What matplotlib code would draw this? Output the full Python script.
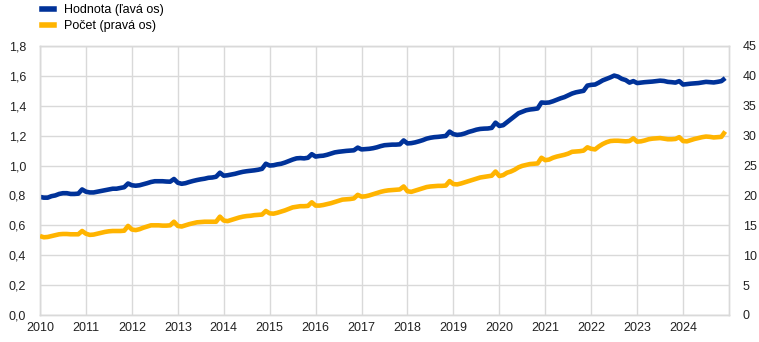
import numpy as np
import matplotlib
matplotlib.use('Agg')
import matplotlib.pyplot as plt
from matplotlib.ticker import FuncFormatter
from matplotlib.lines import Line2D

# Mesačné údaje 2010-2024
roky = list(range(2010, 2025))

hodnota = [
    0.79, 0.785, 0.785, 0.795, 0.80, 0.81, 0.815, 0.815, 0.81, 0.81, 0.812, 0.84,        # 2010
    0.825, 0.82, 0.82, 0.825, 0.83, 0.835, 0.84, 0.845, 0.845, 0.85, 0.855, 0.88,        # 2011
    0.868, 0.865, 0.868, 0.875, 0.882, 0.89, 0.895, 0.895, 0.895, 0.893, 0.892, 0.91,    # 2012
    0.885, 0.878, 0.882, 0.89, 0.897, 0.903, 0.908, 0.912, 0.918, 0.92, 0.925, 0.952,    # 2013
    0.932, 0.935, 0.94, 0.945, 0.952, 0.958, 0.962, 0.965, 0.968, 0.972, 0.978, 1.012,   # 2014
    1.0, 1.002, 1.008, 1.012, 1.02, 1.03, 1.04, 1.048, 1.05, 1.048, 1.052, 1.076,        # 2015
    1.06, 1.064, 1.066, 1.072, 1.08, 1.088, 1.092, 1.095, 1.098, 1.1, 1.102, 1.12,       # 2016
    1.108, 1.11, 1.112, 1.116, 1.122, 1.13, 1.136, 1.138, 1.14, 1.14, 1.142, 1.168,      # 2017
    1.148, 1.15, 1.155, 1.162, 1.17, 1.18, 1.186, 1.19, 1.192, 1.195, 1.198, 1.227,      # 2018
    1.21, 1.205, 1.208, 1.215, 1.225, 1.232, 1.24, 1.245, 1.247, 1.248, 1.252, 1.287,    # 2019
    1.265, 1.27, 1.29, 1.31, 1.33, 1.35, 1.36, 1.37, 1.375, 1.378, 1.382, 1.422,         # 2020
    1.42, 1.422, 1.43, 1.44, 1.45, 1.458, 1.47, 1.482, 1.49, 1.495, 1.5, 1.535,          # 2021
    1.54, 1.542, 1.555, 1.57, 1.58, 1.59, 1.602, 1.595, 1.58, 1.572, 1.555, 1.565,       # 2022
    1.552, 1.555, 1.558, 1.56, 1.562, 1.565, 1.568, 1.566, 1.56, 1.558, 1.555, 1.565,    # 2023
    1.542, 1.545, 1.548, 1.55, 1.552, 1.556, 1.56, 1.558, 1.556, 1.56, 1.565, 1.585,     # 2024
]

pocet = [
    13.2, 13.0, 13.05, 13.2, 13.35, 13.5, 13.55, 13.55, 13.5, 13.5, 13.5, 14.05,          # 2010
    13.6, 13.4, 13.45, 13.6, 13.75, 13.9, 14.0, 14.05, 14.05, 14.05, 14.1, 14.9,          # 2011
    14.3, 14.2, 14.35, 14.6, 14.8, 15.0, 15.0, 15.0, 14.95, 14.95, 15.0, 15.6,            # 2012
    14.9, 14.8, 15.0, 15.2, 15.35, 15.5, 15.55, 15.6, 15.6, 15.6, 15.6, 16.45,            # 2013
    15.8, 15.7, 15.9, 16.1, 16.3, 16.45, 16.55, 16.6, 16.7, 16.75, 16.8, 17.4,            # 2014
    17.0, 16.95, 17.1, 17.3, 17.5, 17.75, 18.0, 18.1, 18.2, 18.2, 18.25, 18.85,           # 2015
    18.3, 18.3, 18.4, 18.55, 18.7, 18.9, 19.1, 19.3, 19.35, 19.4, 19.5, 20.1,             # 2016
    19.8, 19.85, 20.0, 20.2, 20.4, 20.6, 20.75, 20.85, 20.9, 20.95, 21.0, 21.5,           # 2017
    20.7, 20.6, 20.8, 21.0, 21.2, 21.4, 21.5, 21.55, 21.6, 21.6, 21.65, 22.4,             # 2018
    21.9, 21.85, 22.0, 22.2, 22.4, 22.6, 22.8, 23.0, 23.1, 23.2, 23.3, 24.0,              # 2019
    23.25, 23.4, 23.8, 24.0, 24.3, 24.7, 24.95, 25.1, 25.25, 25.3, 25.35, 26.3,           # 2020
    25.9, 26.0, 26.3, 26.5, 26.65, 26.8, 27.0, 27.3, 27.35, 27.4, 27.5, 28.05,            # 2021
    27.8, 27.7, 28.2, 28.6, 28.9, 29.1, 29.15, 29.15, 29.1, 29.05, 29.1, 29.55,           # 2022
    29.0, 29.05, 29.2, 29.4, 29.5, 29.55, 29.6, 29.5, 29.4, 29.4, 29.45, 29.75,           # 2023
    29.1, 29.05, 29.25, 29.45, 29.6, 29.75, 29.85, 29.8, 29.7, 29.75, 29.8, 30.7,         # 2024
]

modra = '#003299'
zlta = '#ffb400'
mriezka = '#d9d9d9'

plt.rcParams['font.family'] = ['Liberation Sans', 'DejaVu Sans']
plt.rcParams['font.size'] = 9

x = roky[0] + np.arange(len(hodnota)) / 12

fig = plt.figure(figsize=(7.59, 3.42), dpi=100)
ax = fig.add_axes([0.0527, 0.079, 0.9078, 0.7865])
ax2 = ax.twinx()

ax.plot(x, hodnota, color=modra, lw=3.3, solid_capstyle='butt', zorder=3)
ax2.plot(x, pocet, color=zlta, lw=3.3, solid_capstyle='butt', zorder=3)

# Osi
ax.set_xlim(2010, 2025)
ax.set_ylim(0, 1.8)
ax2.set_ylim(0, 45)
ax.set_xticks(roky)
ax.set_xticklabels([str(r) for r in roky])
ax.set_yticks(np.arange(0, 1.81, 0.2))
ax2.set_yticks(np.arange(0, 46, 5))
ax.yaxis.set_major_formatter(FuncFormatter(lambda v, p: f'{v:.1f}'.replace('.', ',')))
ax2.yaxis.set_major_formatter(FuncFormatter(lambda v, p: f'{v:.0f}'))

ax.grid(True, color=mriezka, lw=1)
ax.set_axisbelow(True)
for a in (ax, ax2):
    a.tick_params(length=0, colors='#222222', labelsize=9)
    for s in a.spines.values():
        s.set_color(mriezka)
        s.set_linewidth(1)
ax.tick_params(axis='x', pad=5)
ax.tick_params(axis='y', pad=10)
ax2.tick_params(axis='y', pad=10)
ax2.set_zorder(ax.get_zorder() + 1)

# Legenda
handles = [Line2D([], [], color=modra, lw=4), Line2D([], [], color=zlta, lw=4)]
fig.legend(handles, ['Hodnota (ľavá os)', 'Počet (pravá os)'], loc='upper left',
           bbox_to_anchor=(0.04, 1.02), frameon=False, handlelength=1.0,
           handletextpad=0.8, labelspacing=0.3, fontsize=9)

plt.savefig('out.png', dpi=100)
